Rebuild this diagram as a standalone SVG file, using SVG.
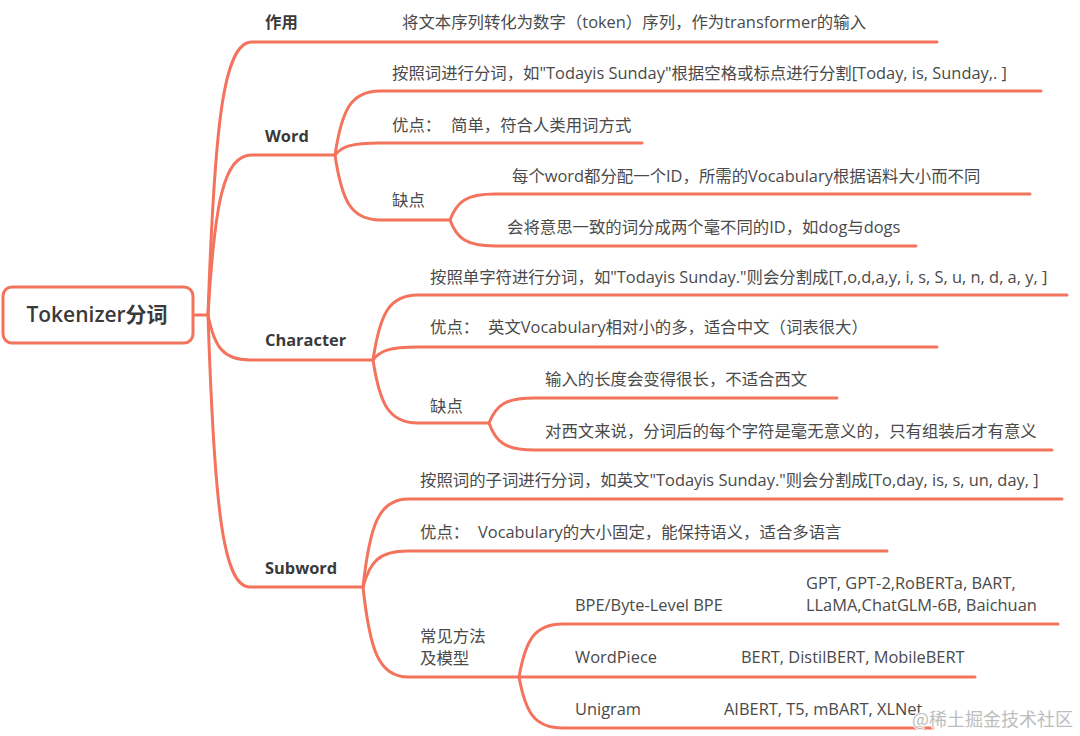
<svg xmlns="http://www.w3.org/2000/svg" width="1080" height="736" viewBox="0 0 1080 736">
<style>
.ln{fill:none;stroke:#f3735d;stroke-width:3;stroke-linecap:round}
.t{font-family:"Open Sans","Noto Sans CJK SC",sans-serif;font-size:16.4px;fill:#4a4a4a}
.b{font-family:"Open Sans","Noto Sans CJK SC",sans-serif;font-size:16.4px;font-weight:700;fill:#3a3a3a}
.root{font-family:"Open Sans","Noto Sans CJK SC",sans-serif;font-size:21px;font-weight:600;fill:#3a3a3a}
.wm{font-family:"Noto Sans CJK SC","Open Sans",sans-serif;font-size:18px;fill:#bdbdbd;stroke:#ffffff;stroke-width:1.5;paint-order:stroke}
</style>
<rect width="1080" height="736" fill="#ffffff"/>
<g id="connectors">
<path class="ln" d="M194 315 H208"/>
<path class="ln" d="M208 315 C214.6 123.9 223.4 42 252 42 H937"/>
<path class="ln" d="M208 315 C214.6 203 223.4 155 252 155 H335"/>
<path class="ln" d="M208 315 C214.3 346.5 222.7 360 250 360 H373"/>
<path class="ln" d="M208 315 C214.3 505.4 222.7 587 250 587 H363"/>
<path class="ln" d="M335 155 C341.75 110.2 350.75 91 380 91 H1041"/>
<path class="ln" d="M335 155 C341.75 146.6 350.75 143 380 143 H642"/>
<path class="ln" d="M335 155 C341.75 200.5 350.75 220 380 220 H450"/>
<path class="ln" d="M450 220 C456.75 201.8 465.75 194 495 194 H1030"/>
<path class="ln" d="M450 220 C456.75 238.2 465.75 246 495 246 H916"/>
<path class="ln" d="M373 360 C379.75 314.5 388.75 295 418 295 H1067"/>
<path class="ln" d="M373 360 C379.75 350.9 388.75 347 418 347 H937"/>
<path class="ln" d="M373 360 C379.75 404.1 388.75 423 418 423 H489"/>
<path class="ln" d="M489 423 C495.75 405.5 504.75 398 534 398 H837"/>
<path class="ln" d="M489 423 C495.75 441.9 504.75 450 534 450 H1052"/>
<path class="ln" d="M363 587 C369.75 525.4 378.75 499 408 499 H1062"/>
<path class="ln" d="M363 587 C369.75 561.8 378.75 551 408 551 H887"/>
<path class="ln" d="M363 587 C369.75 650 378.75 677 408 677 H519"/>
<path class="ln" d="M519 677 C525.6 639.9 534.4 624 563 624 H1058"/>
<path class="ln" d="M519 677 H975"/>
<path class="ln" d="M519 677 C525.6 712.7 534.4 728 563 728 H933"/>
</g>
<g id="root">
<rect x="3" y="287" width="190" height="56" rx="9" fill="#ffffff" stroke="#f3735d" stroke-width="3"/>
<text class="root" x="97" y="322" text-anchor="middle">Tokenizer分词</text>
</g>
<g id="zuoyong"><text class="b" x="265" y="28">作用</text></g>
<g id="zuoyong-desc"><text class="t" x="402" y="28">将文本序列转化为数字（token）序列，作为transformer的输入</text></g>
<g id="word"><text class="b" x="265" y="142">Word</text></g>
<g id="word-1"><text class="t" x="392" y="79">按照词进行分词，如"Todayis Sunday"根据空格或标点进行分割[Today, is, Sunday,. ]</text></g>
<g id="word-pro"><text class="t" x="392" y="131">优点：<tspan x="451">简单，符合人类用词方式</tspan></text></g>
<g id="word-con"><text class="t" x="392" y="206">缺点</text></g>
<g id="word-con-1"><text class="t" x="512" y="182">每个word都分配一个ID，所需的Vocabulary根据语料大小而不同</text></g>
<g id="word-con-2"><text class="t" x="507" y="233">会将意思一致的词分成两个毫不同的ID，如dog与dogs</text></g>
<g id="character"><text class="b" x="265" y="346">Character</text></g>
<g id="char-1"><text class="t" x="430" y="283">按照单字符进行分词，如"Todayis Sunday."则会分割成[T,o,d,a,y, i, s, S, u, n, d, a, y, ]</text></g>
<g id="char-pro"><text class="t" x="430" y="333">优点：<tspan x="488">英文Vocabulary相对小的多，适合中文（词表很大）</tspan></text></g>
<g id="char-con"><text class="t" x="430" y="412">缺点</text></g>
<g id="char-con-1"><text class="t" x="545" y="385">输入的长度会变得很长，不适合西文</text></g>
<g id="char-con-2"><text class="t" x="545" y="437">对西文来说，分词后的每个字符是毫无意义的，只有组装后才有意义</text></g>
<g id="subword"><text class="b" x="265" y="574">Subword</text></g>
<g id="sub-1"><text class="t" x="420" y="486">按照词的子词进行分词，如英文"Todayis Sunday."则会分割成[To,day, is, s, un, day, ]</text></g>
<g id="sub-pro"><text class="t" x="420" y="538">优点：<tspan x="478">Vocabulary的大小固定，能保持语义，适合多语言</tspan></text></g>
<g id="sub-methods"><text class="t" x="420" y="642">常见方法</text><text class="t" x="420" y="664">及模型</text></g>
<g id="bpe"><text class="t" x="575" y="611">BPE/Byte-Level BPE</text></g>
<g id="bpe-models"><text class="t" x="806" y="589">GPT, GPT-2,RoBERTa, BART,</text><text class="t" x="806" y="611">LLaMA,ChatGLM-6B, Baichuan</text></g>
<g id="wordpiece"><text class="t" x="575" y="663">WordPiece</text></g>
<g id="wordpiece-models"><text class="t" x="741" y="663">BERT, DistilBERT, MobileBERT</text></g>
<g id="unigram"><text class="t" x="575" y="715">Unigram</text></g>
<g id="unigram-models"><text class="t" x="724" y="715">AIBERT, T5, mBART, XLNet</text></g>
<g id="watermark"><text class="wm" x="912" y="726">@稀土掘金技术社区</text></g>
</svg>
